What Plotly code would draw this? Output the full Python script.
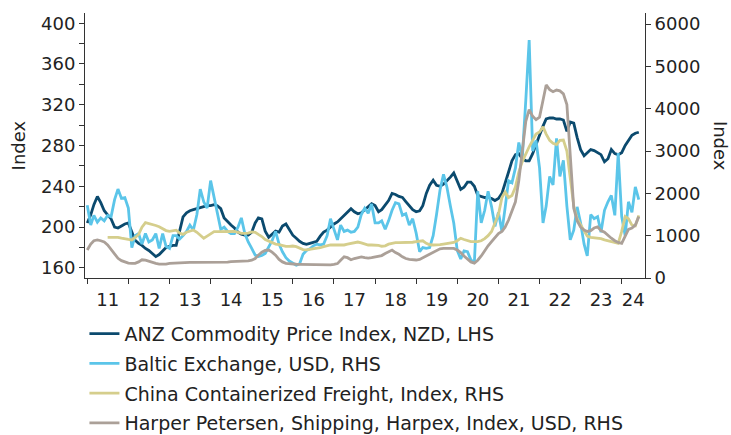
import plotly.graph_objects as go
import pandas as pd

# ---- data (monthly, Jan 2011 - Jun 2024) ----
dates = pd.date_range('2011-01-01', periods=162, freq='MS')

anz = [
    204, 212, 222, 230, 224, 216, 212, 208, 200, 199, 201, 203,
    204, 195, 187, 184, 182, 179, 177, 174, 171, 173, 177, 180,
    181, 182, 182, 195, 210, 214, 216, 217, 218, 219, 220, 221,
    221, 222, 221, 218, 209, 205, 202, 199, 195, 193, 192, 192,
    195, 204, 209, 208, 196, 190, 193, 196, 195, 201, 203, 197,
    192, 189, 186, 184, 183, 184, 185, 186, 191, 195, 197, 200,
    203, 205, 208, 211, 215, 218, 215, 213, 214, 217, 220, 223,
    221, 215, 217, 221, 226, 233, 232, 230, 229, 225, 221, 217,
    215, 216, 221, 233, 241, 246, 241, 240, 242, 245, 249, 253,
    244, 237, 239, 244, 244, 240, 231, 230, 229, 229, 228, 226,
    228, 233, 244, 254, 265, 271, 272, 267, 265, 265, 272, 280,
    290, 299, 306, 307, 307, 306, 306, 305, 294, 303, 302, 288,
    276, 270, 273, 276, 275, 273, 271, 264, 267, 276, 272, 271,
    273, 280, 285, 290, 292, 293,
]

baltic = [
    1720, 1250, 1480, 1320, 1420, 1350, 1480, 1450, 1850, 2100, 1880, 1900,
    1650, 720, 1000, 1050, 800, 1050, 850, 900, 1050, 700, 1050, 750,
    700, 1000, 1000, 920, 1000, 1100, 1250, 1134, 1500, 2100, 1800, 1650,
    2300, 1900, 1500, 1150, 1200, 1100, 1050, 1050, 1200, 1420, 1050, 850,
    700, 540, 510, 530, 580, 720, 880, 1100, 800, 620, 480, 400,
    340, 300, 330, 560, 650, 690, 760, 800, 780, 800, 1000, 1400,
    1150, 900, 1250, 1100, 1130, 1080, 1100, 1200, 1500, 1650, 1530, 1750,
    1300, 1300, 1350, 1150, 1350, 1600, 1780, 1750, 1480, 1520, 1250, 1400,
    1060, 620, 720, 700, 720, 1000, 1500, 2080, 2450, 2150, 1700, 1300,
    650, 450, 640, 620, 430, 360, 2050, 1300, 1600, 2050, 1680, 1220,
    1550, 1100, 1650, 2300, 2250, 2600, 3200, 2850, 4200, 5620, 3000, 3250,
    2600, 1300, 1700, 2400, 2200, 3300, 2400, 2780, 1700, 900, 1130, 1680,
    1300, 800, 520, 1500, 1400, 1450, 1080, 1600, 1800, 1950, 1480, 2950,
    1450, 1000, 1800, 1550, 2150, 1850,
]

china = [
    None, None, None, None, None, None, 960, 960, 960, 960, 940, 920,
    910, 898, 950, 1030, 1200, 1310, 1290, 1270, 1240, 1210, 1160, 1120,
    1100, 1110, 1130, 1060, 1030, 1080, 1110, 1134, 1080, 1000, 940, 990,
    1050, 1094, 1094, 1094, 1094, 1100, 1110, 1100, 1080, 1055, 1055, 1060,
    1090, 1080, 1030, 980, 910, 870, 830, 800, 790, 770, 745, 745,
    755, 740, 705, 670, 665, 675, 690, 700, 715, 740, 760, 780,
    780, 780, 780, 780, 800, 819, 840, 850, 830, 800, 780, 780,
    780, 770, 750, 760, 800, 820, 835, 835, 835, 835, 835, 845,
    858, 870, 880, 820, 785, 780, 780, 790, 803, 810, 819, 840,
    880, 940, 910, 880, 860, 860, 860, 880, 930, 1000, 1100, 1300,
    1500, 1900, 2030, 1900, 1950, 2150, 2500, 2750, 2950, 3100, 3250, 3400,
    3450, 3570, 3400, 3250, 3180, 3150, 3250, 3260, 3000, 2400, 1700, 1400,
    1250, 1100, 990, 960, 950, 940, 930, 900, 880, 860, 830, 820,
    1100, 1450, 1400, 1250, 1230, 1480,
]

harpex = [
    661, 800, 880, 900, 880, 850, 780, 680, 560, 465, 410, 380,
    350, 345, 345, 380, 430, 420, 390, 360, 345, 330, 325, 330,
    345, 350, 360, 370, 370, 370, 370, 370, 370, 370, 370, 370,
    368, 365, 362, 362, 365, 375, 385, 385, 390, 395, 400, 402,
    420, 460, 540, 610, 650, 660, 610, 540, 440, 380, 345, 335,
    330, 325, 323, 320, 318, 315, 310, 307, 307, 307, 307, 310,
    320, 340, 420, 500, 480, 430, 460, 480, 500, 480, 470, 480,
    500, 505, 530, 580, 620, 660, 600, 560, 500, 460, 440, 430,
    425, 440, 480, 510, 560, 600, 650, 690, 700, 700, 705, 700,
    660, 600, 520, 440, 380, 350, 420, 520, 650, 760, 860, 960,
    1050, 1100, 1200, 1370, 1600, 1800, 2300, 3000, 3700, 3980, 3820, 3740,
    3800, 4200, 4560, 4450, 4400, 4440, 4420, 4350, 4100, 2900, 1650, 1350,
    1200, 1130, 1100, 1120, 1180, 1210, 1120, 1080, 1000, 940, 880, 840,
    820, 980, 1150, 1180, 1250, 1450,
]

year_labels = ['11', '12', '13', '14', '15', '16', '17', '18', '19', '20', '21', '22', '23', '24']
label_dates = ['%d-07-02' % (2011 + i) for i in range(13)] + ['2024-04-12']
year_starts = ['%d-01-01' % y for y in range(2011, 2025)]

names = [
    'ANZ Commodity Price Index, NZD, LHS',
    'Baltic Exchange, USD, RHS',
    'China Containerized Freight, Index, RHS',
    'Harper Petersen, Shipping, Harpex, Index, USD, RHS',
]
colors = ['#0B4A6E', '#5BC5E9', '#D5CE8C', '#ABA098']

fig = go.Figure()
series = [anz, baltic, china, harpex]
axes = ['y', 'y2', 'y2', 'y2']
for i, (s, ax) in enumerate(zip(series, axes)):
    fig.add_trace(go.Scatter(
        x=dates, y=s, name=names[i], mode='lines', yaxis=ax,
        line=dict(color=colors[i], width=2.8),
        legendgroup='g%d' % i, connectgaps=False,
    ))

axis_col = '#333333'
tick_font = dict(family='DejaVu Sans', size=18, color='#222222')
fig.update_layout(
    width=731, height=435,
    margin=dict(l=85, r=86, t=13, b=157, autoexpand=False),
    paper_bgcolor='white', plot_bgcolor='white',
    font=dict(family='DejaVu Sans', size=18, color='#222222'),
    showlegend=True,
    legend=dict(
        orientation='v', x=-0.001, y=-0.139, xanchor='left', yanchor='top',
        tracegroupgap=2, bgcolor='rgba(0,0,0,0)',
        font=dict(family='DejaVu Sans', size=19, color='#222222'),
    ),
    xaxis=dict(
        type='date', range=['2010-12-12', '2024-07-26'],
        tickmode='array', tickvals=label_dates, ticktext=year_labels,
        ticks='outside', ticklen=5, tickcolor='rgba(0,0,0,0)', tickfont=tick_font,
        showline=True, linecolor=axis_col, linewidth=1,
        showgrid=False, zeroline=False,
        minor=dict(tickmode='array', tickvals=year_starts, ticks='outside',
                   ticklen=5, tickcolor=axis_col, showgrid=False),
    ),
    yaxis=dict(
        range=[150, 410], tick0=160, dtick=40, tickfont=tick_font,
        ticks='outside', ticklen=5, tickcolor=axis_col,
        showline=True, linecolor=axis_col, linewidth=1,
        showgrid=False, zeroline=False,
        minor=dict(tick0=160, dtick=20, ticks='outside', ticklen=5,
                   tickcolor=axis_col, showgrid=False),
    ),
    yaxis2=dict(
        overlaying='y', side='right', range=[0, 6260], tick0=0, dtick=1000,
        tickfont=tick_font,
        ticks='outside', ticklen=5, tickcolor=axis_col,
        showline=True, linecolor=axis_col, linewidth=1,
        showgrid=False, zeroline=False,
    ),
    annotations=[
        dict(text='Index', xref='paper', yref='paper', x=-0.118, y=0.5,
             textangle=-90, showarrow=False, xanchor='center', yanchor='middle',
             font=dict(size=18)),
        dict(text='Index', xref='paper', yref='paper', x=1.135, y=0.5,
             textangle=90, showarrow=False, xanchor='center', yanchor='middle',
             font=dict(size=18)),
    ],
)

fig.write_html('out.html', config={'displayModeBar': False},
               post_script="document.body.style.margin='0';")
